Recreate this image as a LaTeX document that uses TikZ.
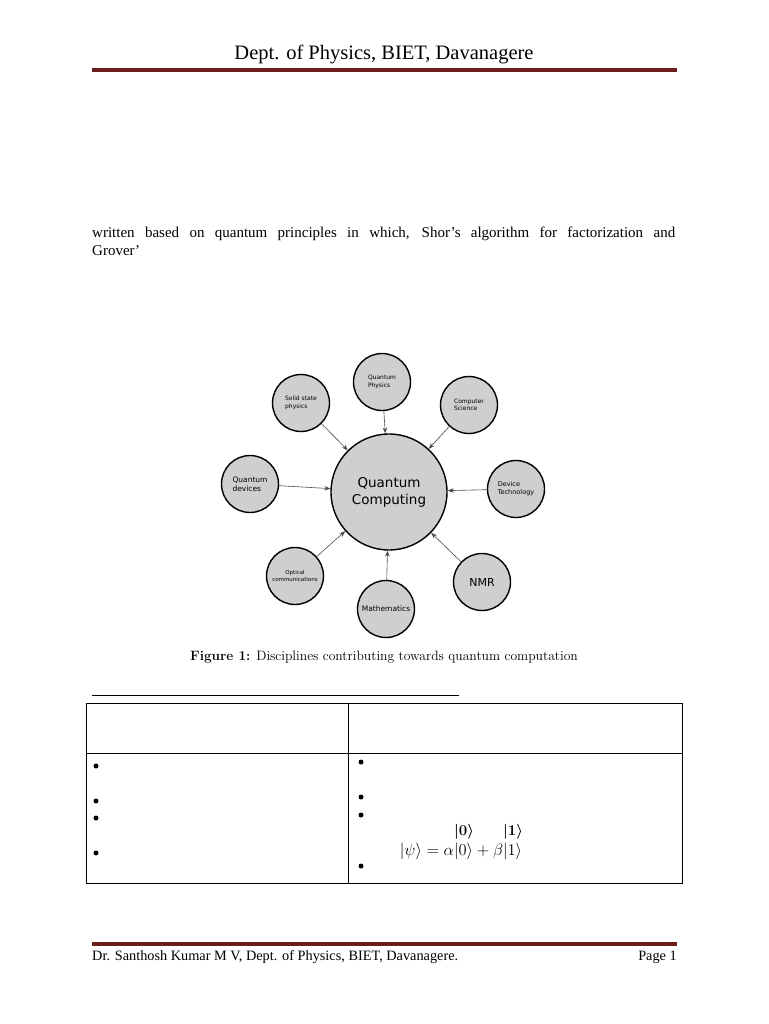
\RequirePackage{fix-cm}
\documentclass[tikz,border=0pt]{standalone}
\usepackage{amsmath,amssymb,bm}
\usepackage{fontspec}
\usepackage{tikz}
\usetikzlibrary{arrows.meta,positioning}
\usepackage{xcolor}
\newfontfamily\hdfont{Liberation Serif}
\newfontfamily\bodyfont{Liberation Serif}
\newfontfamily\diagfont{DejaVu Sans}
\definecolor{barred}{HTML}{6B1E1E}
\definecolor{discgray}{HTML}{CFCFCF}
\begin{document}
\begin{tikzpicture}[
  x=1pt, y=-1pt,
  >={Stealth[length=6pt,width=4.5pt]},
  disc/.style={draw, circle, fill=discgray, line width=1.4pt, minimum size=57pt,
               inner sep=0pt, align=left, font=\diagfont\fontsize{6}{7.5}\selectfont},
  hub/.style={disc, minimum size=116pt, align=center,
              font=\diagfont\fontsize{13.5}{17}\selectfont},
  feed/.style={->, line width=0.6pt, draw=black!70},
  bullet/.style={circle, fill=black, inner sep=0pt, minimum size=5pt},
  rule/.style={line width=1pt}
]
  \useasboundingbox[fill=white] (0,0) rectangle (768,1024);
  %% Header
  \node[font=\hdfont\fontsize{20.5}{24}\selectfont] (head) at (384,54)
    {Dept. of Physics, BIET, Davanagere};
  \draw[barred, line width=3.5pt] (92,70) -- (677,70);
  %% Paragraph
  \node[anchor=north west, inner sep=0pt, text width=583pt, align=justify,
        font=\bodyfont\fontsize{15}{18}\selectfont] (para) at (92,227)
    {written based on quantum principles in which, Shor’s algorithm for factorization and\linebreak Grover’};
  %% Diagram
  \node[hub]  (qc)   at (389,492) {Quantum\\Computing};
  \node[disc] (qphy) at (382,382) {Quantum\\Physics};
  \node[disc] (ssp)  at (301,403) {Solid state\\physics};
  \node[disc] (cs)   at (469,405) {Computer\\Science};
  \node[disc, font=\diagfont\fontsize{7.5}{9}\selectfont] (qdev) at (250,484) {Quantum\\devices};
  \node[disc, font=\diagfont\fontsize{6.5}{8}\selectfont] (dtech) at (516,489) {Device\\Technology};
  \node[disc, align=center, font=\diagfont\fontsize{5.5}{7}\selectfont] (opt) at (295,576) {Optical\\communications};
  \node[disc, font=\diagfont\fontsize{7.5}{9}\selectfont] (math) at (386,609) {Mathematics};
  \node[disc, font=\diagfont\fontsize{11}{13}\selectfont] (nmr) at (482,582) {NMR};
  \foreach \src in {qphy,ssp,cs,qdev,dtech,opt,math,nmr}
    \draw[feed] (\src) -- (qc);
  %% Caption
  \node[font=\fontsize{13.6}{16}\selectfont] (cap) at (384,657)
    {\textbf{Figure 1:} Disciplines contributing towards quantum computation};
  %% Table
  \draw[rule] (92,695) -- (459,695);
  \draw[rule] (86,703) rectangle (682,883);
  \draw[rule] (348,703) -- (348,883);
  \draw[rule] (86,753) -- (682,753);
  \node[bullet] (lb1) at (96,766) {};
  \node[bullet] (lb2) at (96,801) {};
  \node[bullet] (lb3) at (96,818) {};
  \node[bullet] (lb4) at (96,853) {};
  \node[bullet] (rb1) at (361,762) {};
  \node[bullet] (rb2) at (361,797) {};
  \node[bullet] (rb3) at (361,815) {};
  \node[bullet] (rb4) at (361,866) {};
  \node[font=\fontsize{15}{17}\selectfont] (ket0) at (464,832) {$\bm{|0\rangle}$};
  \node[font=\fontsize{15}{17}\selectfont] (ket1) at (513,832) {$\bm{|1\rangle}$};
  \node[font=\fontsize{16.5}{18}\selectfont] (psi) at (461,851) {$|\psi\rangle=\alpha|0\rangle+\beta|1\rangle$};
  %% Footer
  \draw[barred, line width=3.5pt] (92,944) -- (677,944);
  \node[anchor=west, inner sep=0pt, font=\hdfont\fontsize{14.3}{17}\selectfont] (foot) at (92,957)
    {Dr. Santhosh Kumar M V, Dept. of Physics, BIET, Davanagere.};
  \node[anchor=east, inner sep=0pt, font=\hdfont\fontsize{14.3}{17}\selectfont] (page) at (677,957)
    {Page 1};
\end{tikzpicture}
\end{document}
